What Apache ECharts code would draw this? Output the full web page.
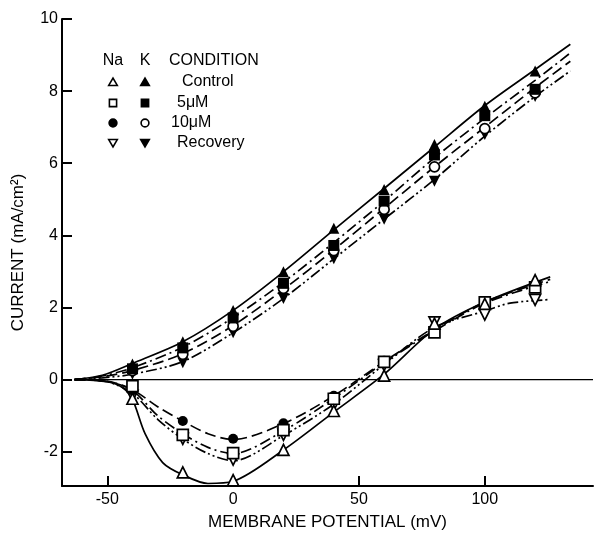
<!DOCTYPE html>
<html>
<head>
<meta charset="utf-8">
<script src="https://cdn.jsdelivr.net/npm/echarts@6/dist/echarts.min.js"></script>
<style>
  html, body { margin: 0; padding: 0; background: #fff; }
  #main { width: 602px; height: 536px; }
</style>
</head>
<body>
<div id="main"></div>
<script>
// membrane potential of the measured points (mV)
var mV = [-40, -20, 0, 20, 40, 60, 80, 100, 120];

// K currents (mA/cm2), upper family
var kControl  = [0.43, 1.05, 1.92, 2.99, 4.2, 5.27, 6.52, 7.58, 8.56];
var k5uM      = [0.3, 0.88, 1.71, 2.67, 3.72, 4.95, 6.23, 7.32, 8.05];
var k10uM     = [0.25, 0.7, 1.48, 2.53, 3.58, 4.72, 5.9, 6.96, 7.95];
var kRecovery = [0.15, 0.47, 1.3, 2.25, 3.35, 4.45, 5.5, 6.8, 7.85];

// Na currents (mA/cm2), lower family
var naControl  = [-0.53, -2.57, -2.79, -1.95, -0.87, 0.11, 1.55, 2.1, 2.76];
var na5uM      = [-0.18, -1.53, -2.04, -1.4, -0.53, 0.49, 1.31, 2.14, 2.56];
var na10uM     = [-0.3, -1.15, -1.64, -1.21, -0.45, 0.52, 1.39, 2.16, 2.62];
var naRecovery = [-0.45, -1.64, -2.22, -1.53, -0.71, 0.4, 1.59, 1.8, 2.21];

// fitted curves, [mV, current]
var kControlCurve  = [[-63, 0], [-52, 0.12], [-40, 0.45], [-20, 1.05], [0, 1.92], [20, 2.99], [40, 4.15], [60, 5.3], [80, 6.45], [100, 7.6], [120, 8.6], [134, 9.3]];
var k5uMCurve      = [[-63, 0], [-52, 0.1], [-40, 0.33], [-20, 0.9], [0, 1.72], [20, 2.7], [40, 3.8], [60, 4.95], [80, 6.15], [100, 7.25], [120, 8.3], [134, 9.06]];
var k10uMCurve     = [[-63, 0], [-52, 0.08], [-40, 0.25], [-20, 0.72], [0, 1.5], [20, 2.5], [40, 3.6], [60, 4.75], [80, 5.9], [100, 7.0], [120, 8.1], [134, 8.83]];
var kRecoveryCurve = [[-63, 0], [-52, 0.05], [-40, 0.15], [-20, 0.5], [0, 1.3], [20, 2.25], [40, 3.35], [60, 4.45], [80, 5.55], [100, 6.75], [120, 7.85], [134, 8.56]];

var naControlCurve  = [[-63, 0], [-50, -0.06], [-44, -0.22], [-40, -0.55], [-35, -1.5], [-28, -2.3], [-20, -2.64], [-10, -2.88], [0, -2.82], [20, -1.95], [40, -0.9], [60, 0.15], [80, 1.4], [100, 2.15], [126, 2.85]];
var na5uMCurve      = [[-63, 0], [-50, -0.05], [-40, -0.3], [-30, -1.0], [-20, -1.5], [-10, -1.88], [0, -2.05], [20, -1.42], [40, -0.52], [60, 0.47], [80, 1.35], [100, 2.12], [126, 2.72]];
var na10uMCurve     = [[-63, 0], [-50, -0.04], [-40, -0.28], [-30, -0.75], [-20, -1.15], [-10, -1.5], [0, -1.66], [20, -1.22], [40, -0.45], [60, 0.5], [80, 1.38], [100, 2.15], [126, 2.78]];
var naRecoveryCurve = [[-63, 0], [-50, -0.06], [-40, -0.38], [-30, -1.1], [-20, -1.65], [-10, -2.05], [0, -2.25], [20, -1.55], [40, -0.68], [60, 0.42], [80, 1.45], [100, 1.9], [110, 2.12], [126, 2.22]];

var zeroLine = [[-63, 0], [143, 0]];

var xTicks = [-50, 0, 50, 100];
var yTicks = [-2, 0, 2, 4, 6, 8, 10];

var FONT = 'Liberation Sans';
var solid = 'solid';
var dashDot = [11, 4, 2, 4];
var dash = [11, 5];
var dashDotDot = [11, 3, 2, 3, 2, 3];

function pairs(xs, ys) {
    return xs.map(function (x, i) { return [x, ys[i]]; });
}

function curve(data, type) {
    return {
        type: 'line', data: data, smooth: 0.3, symbol: 'none', silent: true,
        lineStyle: { color: '#000', width: 1.7, type: type }, z: 2
    };
}

function marks(data, symbol, filled, rotate) {
    return {
        type: 'scatter', data: data, symbol: symbol, symbolSize: symbol == 'circle' ? 10 : 11,
        symbolRotate: rotate || 0, z: 5,
        itemStyle: { color: filled ? '#000' : '#fff', borderColor: '#000', borderWidth: filled ? 0 : 1.7, opacity: 1 }
    };
}

// legend table, drawn with plain shapes
function tri(cx, cy, down, filled) {
    var s = 4.3;
    var pts = down ? [[cx - s, cy - s * 0.8], [cx + s, cy - s * 0.8], [cx, cy + s * 0.9]]
                   : [[cx - s, cy + s * 0.8], [cx + s, cy + s * 0.8], [cx, cy - s * 0.9]];
    return { type: 'polygon', shape: { points: pts }, style: { fill: filled ? '#000' : '#fff', stroke: '#000', lineWidth: 1.6 } };
}
function sq(cx, cy, filled) {
    return { type: 'rect', shape: { x: cx - 3.6, y: cy - 3.6, width: 7.2, height: 7.2 }, style: { fill: filled ? '#000' : '#fff', stroke: '#000', lineWidth: 1.6 } };
}
function dot(cx, cy, filled) {
    return { type: 'circle', shape: { cx: cx, cy: cy, r: 3.9 }, style: { fill: filled ? '#000' : '#fff', stroke: '#000', lineWidth: 1.6 } };
}
function label(txt, x, y, align) {
    return { type: 'text', x: x, y: y, style: { text: txt, font: '16px "' + FONT + '"', fill: '#000', align: align || 'left', verticalAlign: 'middle' } };
}

var naX = 113, kX = 145;
var rows = [82, 103, 123, 143];

var chart = echarts.init(document.getElementById('main'));
chart.setOption({
    backgroundColor: '#fff',
    animation: false,
    textStyle: { fontFamily: FONT, color: '#000' },
    grid: { left: 62, right: 9, top: 19, bottom: 45, containLabel: false },
    xAxis: {
        type: 'value', min: -68, max: 143,
        name: 'MEMBRANE POTENTIAL (mV)', nameLocation: 'middle', nameGap: 28,
        nameTextStyle: { fontSize: 17, color: '#000', fontFamily: FONT },
        axisLine: { onZero: false, lineStyle: { color: '#000', width: 2 } },
        axisTick: { inside: true, length: 10, customValues: xTicks, lineStyle: { color: '#000', width: 2 } },
        axisLabel: { customValues: xTicks, fontSize: 16, color: '#000', margin: 6, fontFamily: FONT },
        splitLine: { show: false }
    },
    yAxis: {
        type: 'value', min: -2.95, max: 10,
        name: 'CURRENT (mA/cm²)', nameLocation: 'middle', nameGap: 35, nameRotate: 90,
        nameTextStyle: { fontSize: 17, color: '#000', fontFamily: FONT },
        axisLine: { onZero: false, lineStyle: { color: '#000', width: 2 } },
        axisTick: { inside: true, length: 10, customValues: yTicks, lineStyle: { color: '#000', width: 2 } },
        axisLabel: { customValues: yTicks, fontSize: 16, color: '#000', margin: 4, fontFamily: FONT },
        splitLine: { show: false }
    },
    series: [
        { type: 'line', data: zeroLine, symbol: 'none', silent: true, lineStyle: { color: '#000', width: 1.2 }, z: 1 },

        curve(kControlCurve, solid),
        curve(k5uMCurve, dashDot),
        curve(k10uMCurve, dash),
        curve(kRecoveryCurve, dashDotDot),
        curve(naControlCurve, solid),
        curve(na5uMCurve, dashDot),
        curve(na10uMCurve, dash),
        curve(naRecoveryCurve, dashDotDot),

        marks(pairs(mV, kRecovery), 'triangle', true, 180),
        marks(pairs(mV, k10uM), 'circle', false),
        marks(pairs(mV, k5uM), 'rect', true),
        marks(pairs(mV, kControl), 'triangle', true),
        marks(pairs(mV, naRecovery), 'triangle', false, 180),
        marks(pairs(mV, na10uM), 'circle', true),
        marks(pairs(mV, na5uM), 'rect', false),
        marks(pairs(mV, naControl), 'triangle', false)
    ],
    graphic: [
        label('Na', naX, 61, 'center'),
        label('K', kX, 61, 'center'),
        label('CONDITION', 169, 61),
        tri(naX, rows[0], false, false), tri(kX, rows[0], false, true), label('Control', 182, rows[0]),
        sq(naX, rows[1], false), sq(kX, rows[1], true), label('5μM', 177, rows[1]),
        dot(naX, rows[2], true), dot(kX, rows[2], false), label('10μM', 171, rows[2]),
        tri(naX, rows[3], true, false), tri(kX, rows[3], true, true), label('Recovery', 177, rows[3])
    ]
});
</script>
</body>
</html>
